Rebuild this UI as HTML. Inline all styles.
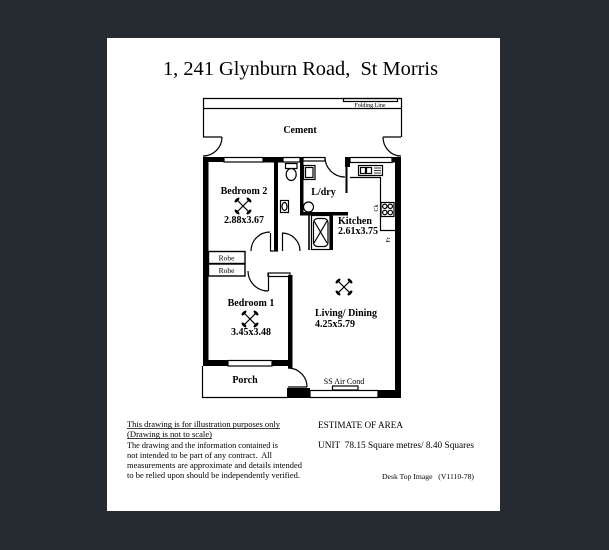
<!DOCTYPE html>
<html><head><meta charset="utf-8"><style>
html,body{margin:0;padding:0;background:#262b31;}
svg{display:block;}
text{font-family:"Liberation Serif",serif;fill:#000;}
.b{font-weight:bold;font-size:10px;}
</style></head><body>
<svg width="609" height="550" viewBox="0 0 609 550" xmlns="http://www.w3.org/2000/svg">
<rect x="0" y="0" width="609" height="550" fill="#262b31"/>
<rect x="107" y="38" width="393" height="473" fill="#ffffff"/>

<text x="300.5" y="75" font-size="20" text-anchor="middle" textLength="275" lengthAdjust="spacingAndGlyphs" xml:space="preserve">1, 241 Glynburn Road,  St Morris</text>

<g fill="none" stroke="#000" stroke-width="1.2">
  <!-- cement area -->
  <line x1="203" y1="98.5" x2="402" y2="98.5"/>
  <line x1="203" y1="108.5" x2="402" y2="108.5"/>
  <line x1="203.5" y1="98" x2="203.5" y2="137"/>
  <line x1="401.5" y1="98" x2="401.5" y2="137"/>
  <rect x="343.5" y="98.5" width="54" height="3"/>
  <line x1="203" y1="137" x2="222" y2="137"/>
  <path d="M222,137 A19,19 0 0,1 203,156"/>
  <line x1="401" y1="137" x2="383" y2="137"/>
  <path d="M383,137 A18,19 0 0,0 401,156"/>

  <!-- windows -->
  <rect x="224" y="157.5" width="39" height="4.5" fill="#fff"/>
  <rect x="283" y="157.5" width="17" height="4.5" fill="#fff"/>
  <rect x="303" y="157.5" width="22" height="3.5" fill="#fff"/>
  <rect x="350" y="157.5" width="42" height="5" fill="#fff"/>
  <rect x="228" y="360.5" width="44" height="5.5" fill="#fff"/>
  <rect x="310" y="390.5" width="68" height="7" fill="#fff"/>

  <!-- doors -->
  <line x1="270.5" y1="233" x2="270.5" y2="251"/>
  <line x1="270" y1="251" x2="278" y2="251"/>
  <path d="M270,232 A19,19 0 0,0 251,251"/>
  <line x1="282.5" y1="233" x2="282.5" y2="251"/>
  <path d="M282,233 A18,18 0 0,1 300,251"/>
  <path d="M325,157 A20,20 0 0,0 345,177"/>
  <rect x="268" y="273" width="22" height="3.5" fill="#fff"/>
  <line x1="268.5" y1="273" x2="268.5" y2="291"/>
  <path d="M248,271 A20,20 0 0,0 268,291"/>
  <path d="M288,368 A19,19 0 0,1 307,387"/>
  <line x1="288" y1="387" x2="307" y2="387"/>

  <!-- robes -->
  <rect x="208.5" y="251.5" width="36.5" height="12" stroke-width="1.4"/>
  <rect x="208.5" y="264" width="36.5" height="12" stroke-width="1.4"/>

  <!-- porch -->
  <line x1="202.5" y1="366" x2="202.5" y2="398"/>
  <line x1="202" y1="397.5" x2="288" y2="397.5"/>

  <!-- bath -->
  <line x1="309" y1="213" x2="309" y2="250" stroke-width="1.6"/>
  <rect x="311.5" y="215.5" width="18.5" height="34"/>
  <rect x="313.5" y="218.5" width="14.5" height="28" rx="4"/>
  <line x1="314" y1="221" x2="327" y2="243"/>
  <line x1="327" y1="221" x2="314" y2="243"/>

  <!-- toilet -->
  <rect x="285.5" y="163.5" width="11.5" height="5"/>
  <ellipse cx="291.2" cy="174.5" rx="5" ry="6"/>
  <!-- basin -->
  <rect x="280.5" y="200.5" width="8" height="12"/>
  <ellipse cx="284.5" cy="206.5" rx="2.5" ry="4"/>
  <!-- trough -->
  <rect x="303.5" y="165.5" width="11.5" height="14"/>
  <rect x="305.5" y="167.5" width="7.5" height="10"/>
  <!-- washing machine -->
  <circle cx="308.5" cy="207" r="5"/>

  <!-- kitchen -->
  <line x1="346.5" y1="167" x2="346.5" y2="193" stroke-width="2"/>
  <polyline points="350,177.5 380.5,177.5 380.5,230.5 395,230.5"/>
  <rect x="358.5" y="165.5" width="24" height="10"/>
  <rect x="360.5" y="167.5" width="5" height="6"/>
  <rect x="366.5" y="167.5" width="5" height="6"/>
  <line x1="374" y1="168" x2="381" y2="168" stroke-width="0.8"/>
  <line x1="374" y1="170.5" x2="381" y2="170.5" stroke-width="0.8"/>
  <line x1="374" y1="173" x2="381" y2="173" stroke-width="0.8"/>
  <rect x="381" y="202.5" width="13" height="14"/>
  <circle cx="384.8" cy="206.3" r="2.2"/>
  <circle cx="390.3" cy="206.3" r="2.2"/>
  <circle cx="384.8" cy="212.5" r="2.2"/>
  <circle cx="390.3" cy="212.5" r="2.2"/>

  <!-- AC -->
  <rect x="332.5" y="386" width="25.5" height="4"/>
</g>

<!-- thick walls -->
<g fill="#000">
  <rect x="203" y="157" width="5.5" height="209"/>
  <rect x="203" y="157" width="21" height="5"/>
  <rect x="263" y="157" width="20" height="5.5"/>
  <rect x="300" y="157" width="3.5" height="58"/>
  <rect x="300" y="212" width="48" height="3.5"/>
  <rect x="274" y="160" width="4" height="91"/>
  <rect x="345" y="157" width="5" height="10"/>
  <rect x="392" y="157" width="9" height="5.5"/>
  <rect x="395" y="157" width="6" height="241"/>
  <rect x="330" y="213" width="3" height="37"/>
  <rect x="288" y="275" width="4.5" height="93"/>
  <rect x="203" y="360" width="25" height="6"/>
  <rect x="272" y="360" width="20.5" height="6"/>
  <rect x="287" y="388" width="23" height="10"/>
  <rect x="378" y="390" width="23" height="8"/>
</g>

<!-- fans -->
<g stroke="#000" stroke-width="1.2" fill="#000">
  <g transform="translate(243,206)">
    <line x1="-7" y1="-7" x2="7" y2="7"/><line x1="-7" y1="7" x2="7" y2="-7"/>
    <ellipse cx="6" cy="6" rx="2.5" ry="0.8" transform="rotate(-45 6 6)"/>
    <ellipse cx="-6" cy="-6" rx="2.5" ry="0.8" transform="rotate(-45 -6 -6)"/>
    <ellipse cx="6" cy="-6" rx="2.5" ry="0.8" transform="rotate(45 6 -6)"/>
    <ellipse cx="-6" cy="6" rx="2.5" ry="0.8" transform="rotate(45 -6 6)"/>
  </g>
  <g transform="translate(250,319)">
    <line x1="-7" y1="-7" x2="7" y2="7"/><line x1="-7" y1="7" x2="7" y2="-7"/>
    <ellipse cx="6" cy="6" rx="2.5" ry="0.8" transform="rotate(-45 6 6)"/>
    <ellipse cx="-6" cy="-6" rx="2.5" ry="0.8" transform="rotate(-45 -6 -6)"/>
    <ellipse cx="6" cy="-6" rx="2.5" ry="0.8" transform="rotate(45 6 -6)"/>
    <ellipse cx="-6" cy="6" rx="2.5" ry="0.8" transform="rotate(45 -6 6)"/>
  </g>
  <g transform="translate(344,287)">
    <line x1="-7" y1="-7" x2="7" y2="7"/><line x1="-7" y1="7" x2="7" y2="-7"/>
    <ellipse cx="6" cy="6" rx="2.5" ry="0.8" transform="rotate(-45 6 6)"/>
    <ellipse cx="-6" cy="-6" rx="2.5" ry="0.8" transform="rotate(-45 -6 -6)"/>
    <ellipse cx="6" cy="-6" rx="2.5" ry="0.8" transform="rotate(45 6 -6)"/>
    <ellipse cx="-6" cy="6" rx="2.5" ry="0.8" transform="rotate(45 -6 6)"/>
  </g>
</g>

<!-- labels -->
<text x="370" y="107" font-size="6" text-anchor="middle">Folding Line</text>
<text class="b" x="300" y="133" text-anchor="middle">Cement</text>
<text class="b" x="244" y="194" text-anchor="middle">Bedroom 2</text>
<text class="b" x="244" y="223" text-anchor="middle">2.88x3.67</text>
<text class="b" x="323.5" y="195" text-anchor="middle">L/dry</text>
<text class="b" x="338" y="224">Kitchen</text>
<text class="b" x="338" y="234">2.61x3.75</text>
<text x="378" y="208" font-size="6" transform="rotate(-90 378 208)" text-anchor="middle">Ck</text>
<text x="390" y="240" font-size="6" transform="rotate(-90 390 240)" text-anchor="middle">Fr</text>
<text x="226.5" y="260.5" font-size="7.5" text-anchor="middle">Robe</text>
<text x="226.5" y="273" font-size="7.5" text-anchor="middle">Robe</text>
<text class="b" x="251" y="306" text-anchor="middle">Bedroom 1</text>
<text class="b" x="251" y="335" text-anchor="middle">3.45x3.48</text>
<text class="b" x="315" y="316">Living/ Dining</text>
<text class="b" x="315" y="327">4.25x5.79</text>
<text class="b" x="245" y="383" text-anchor="middle">Porch</text>
<text x="344" y="384" font-size="8" text-anchor="middle">SS Air Cond</text>

<!-- footer -->
<g font-size="8">
  <text x="127" y="427" textLength="153" lengthAdjust="spacingAndGlyphs">This drawing is for illustration purposes only</text>
  <line x1="127" y1="428.5" x2="280" y2="428.5" stroke="#000" stroke-width="0.7"/>
  <text x="127" y="437" textLength="85" lengthAdjust="spacingAndGlyphs">(Drawing is not to scale)</text>
  <line x1="127" y1="438.5" x2="212" y2="438.5" stroke="#000" stroke-width="0.7"/>
  <text x="127" y="448" textLength="151" lengthAdjust="spacingAndGlyphs">The drawing and the information contained is</text>
  <text x="127" y="458" textLength="145" lengthAdjust="spacingAndGlyphs" xml:space="preserve">not intended to be part of any contract.  All</text>
  <text x="127" y="468" textLength="175" lengthAdjust="spacingAndGlyphs">measurements are approximate and details intended</text>
  <text x="127" y="478" textLength="173" lengthAdjust="spacingAndGlyphs">to be relied upon should be independently verified.</text>
</g>
<text x="318" y="428" font-size="9" textLength="85" lengthAdjust="spacingAndGlyphs">ESTIMATE OF AREA</text>
<text x="318" y="448" font-size="9" textLength="156" lengthAdjust="spacingAndGlyphs" xml:space="preserve">UNIT  78.15 Square metres/ 8.40 Squares</text>
<text x="382" y="479" font-size="7" textLength="92" lengthAdjust="spacingAndGlyphs" xml:space="preserve">Desk Top Image   (V1110-78)</text>
</svg>
</body></html>
